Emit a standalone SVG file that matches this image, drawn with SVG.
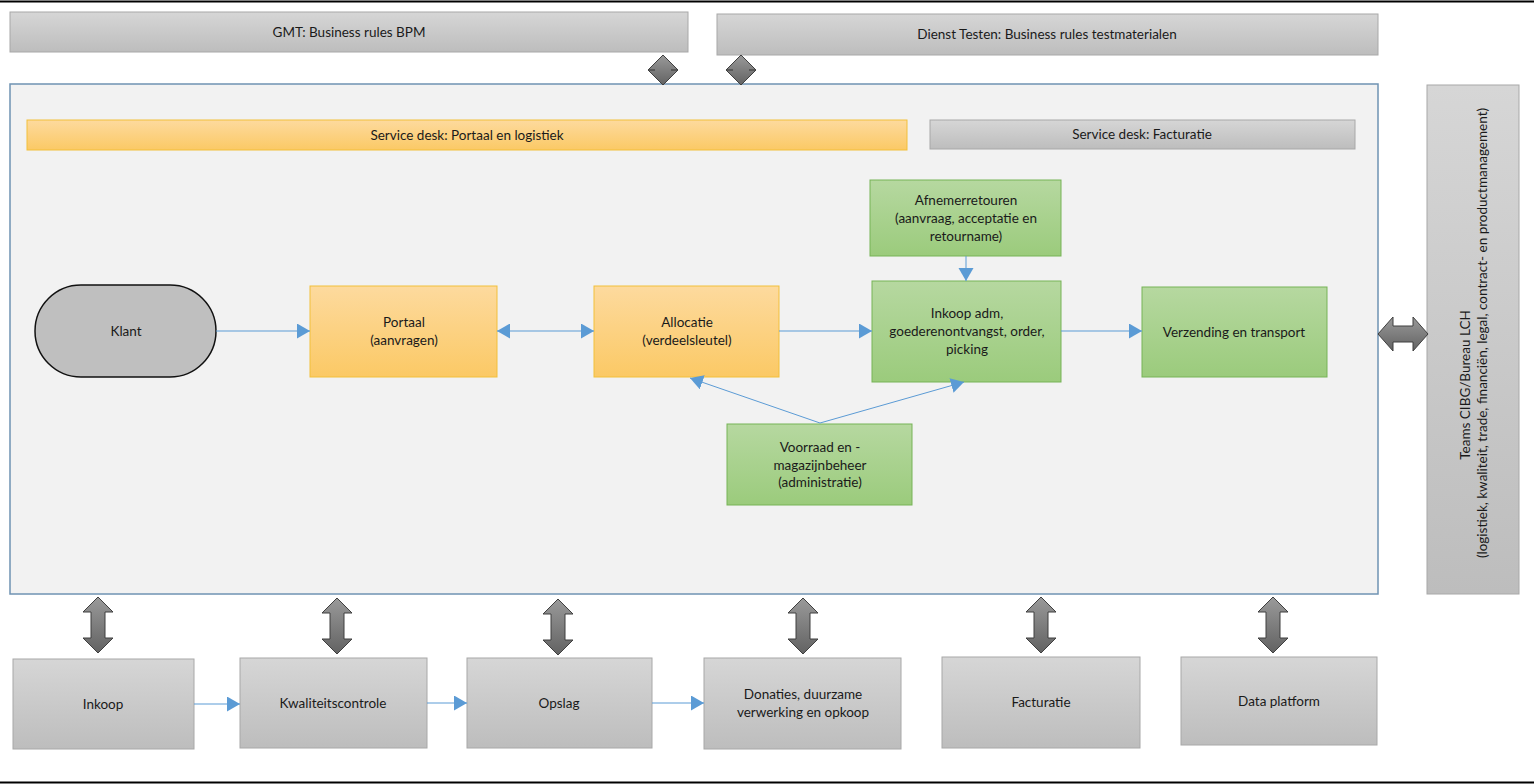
<svg xmlns="http://www.w3.org/2000/svg" width="1534" height="784" viewBox="0 0 1534 784">
<defs>
<linearGradient id="gGray" x1="0" y1="0" x2="0" y2="1"><stop offset="0" stop-color="#d6d6d6"/><stop offset="1" stop-color="#bdbdbd"/></linearGradient>
<linearGradient id="gOrange" x1="0" y1="0" x2="0" y2="1"><stop offset="0" stop-color="#fdda9e"/><stop offset="1" stop-color="#fbc965"/></linearGradient>
<linearGradient id="gGreen" x1="0" y1="0" x2="0" y2="1"><stop offset="0" stop-color="#b6d8a0"/><stop offset="1" stop-color="#9bcb7c"/></linearGradient>
<linearGradient id="gArrow" x1="0" y1="0" x2="0" y2="1"><stop offset="0" stop-color="#9a9a9a"/><stop offset="1" stop-color="#626262"/></linearGradient>
<marker id="tri" markerUnits="userSpaceOnUse" markerWidth="14" markerHeight="16" refX="13" refY="7.5" orient="auto">
<path d="M0,0 L13,7.5 L0,15 Z" fill="#5b9bd5"/>
</marker>
<marker id="triStart" markerUnits="userSpaceOnUse" markerWidth="14" markerHeight="16" refX="0" refY="7.5" orient="auto">
<path d="M13,0 L0,7.5 L13,15 Z" fill="#5b9bd5"/>
</marker>
<path id="vArrow" d="M0,-28 L15,-13 L7,-13 L7,13 L15,13 L0,28 L-15,13 L-7,13 L-7,-13 L-15,-13 Z"/>
</defs>
<style>
text{font-family:Lato,"Liberation Sans",sans-serif;font-size:13.5px;fill:#1a1a1a;text-anchor:middle}
.gray{fill:url(#gGray);stroke:#a8a8a8;stroke-width:1}
.orange{fill:url(#gOrange);stroke:#f2bf3a;stroke-width:1}
.green{fill:url(#gGreen);stroke:#76b356;stroke-width:1}
.conn{stroke:#5b9bd5;stroke-width:1;fill:none}
.big{fill:url(#gArrow);stroke:#3f3f3f;stroke-width:1}
</style>
<rect width="1534" height="784" fill="#ffffff"/>
<line x1="0" y1="1.5" x2="1534" y2="1.5" stroke="#000" stroke-width="2"/>
<line x1="0" y1="782.5" x2="1534" y2="782.5" stroke="#000" stroke-width="2"/>

<g id="gmt"><rect class="gray" x="10" y="12" width="678" height="40"/><text x="349" y="37">GMT: Business rules BPM</text></g>
<g id="dienst-testen"><rect class="gray" x="717" y="14" width="661" height="41"/><text x="1047" y="39">Dienst Testen: Business rules testmaterialen</text></g>

<g id="container"><rect x="10" y="84" width="1368" height="510" fill="#f2f2f2" stroke="#6f93b3" stroke-width="1.5"/></g>

<g id="sd-portaal"><rect class="orange" x="27" y="120" width="880" height="30"/><text x="467" y="140">Service desk: Portaal en logistiek</text></g>
<g id="sd-facturatie"><rect class="gray" x="930" y="120" width="425" height="29"/><text x="1142" y="139">Service desk: Facturatie</text></g>

<g id="teams"><rect class="gray" x="1427" y="85" width="92" height="509"/>
<text transform="translate(1470,385) rotate(-90)">Teams CIBG/Bureau LCH</text>
<text transform="translate(1487,333) rotate(-90)">(logistiek, kwaliteit, trade, financiën, legal, contract- en productmanagement)</text></g>

<g id="klant"><rect x="35" y="285" width="181" height="92" rx="46" ry="46" fill="#bfbfbf" stroke="#111" stroke-width="1.5"/><text x="126" y="336">Klant</text></g>
<g id="portaal"><rect class="orange" x="310" y="286" width="187" height="91"/><text x="404" y="327">Portaal</text><text x="404" y="345">(aanvragen)</text></g>
<g id="allocatie"><rect class="orange" x="594" y="286" width="185" height="91"/><text x="687" y="327">Allocatie</text><text x="687" y="345">(verdeelsleutel)</text></g>
<g id="afnemerretouren"><rect class="green" x="870" y="180" width="191" height="76"/><text x="966" y="205">Afnemerretouren</text><text x="966" y="223">(aanvraag, acceptatie en</text><text x="966" y="241">retourname)</text></g>
<g id="inkoop-adm"><rect class="green" x="872" y="281" width="189" height="101"/><text x="967" y="318">Inkoop adm,</text><text x="967" y="336">goederenontvangst, order,</text><text x="967" y="354">picking</text></g>
<g id="verzending"><rect class="green" x="1142" y="287" width="185" height="90"/><text x="1234" y="337">Verzending en transport</text></g>
<g id="voorraad"><rect class="green" x="727" y="424" width="185" height="81"/><text x="820" y="452">Voorraad en -</text><text x="820" y="470">magazijnbeheer</text><text x="820" y="487">(administratie)</text></g>

<g id="inkoop"><rect class="gray" x="13" y="659" width="181" height="90"/><text x="103" y="709">Inkoop</text></g>
<g id="kwaliteitscontrole"><rect class="gray" x="240" y="658" width="187" height="90"/><text x="333" y="708">Kwaliteitscontrole</text></g>
<g id="opslag"><rect class="gray" x="467" y="658" width="185" height="90"/><text x="559" y="708">Opslag</text></g>
<g id="donaties"><rect class="gray" x="704" y="658" width="197" height="91"/><text x="803" y="699">Donaties, duurzame</text><text x="803" y="717">verwerking en opkoop</text></g>
<g id="facturatie"><rect class="gray" x="942" y="657" width="198" height="91"/><text x="1041" y="707">Facturatie</text></g>
<g id="data-platform"><rect class="gray" x="1181" y="657" width="196" height="88"/><text x="1279" y="706">Data platform</text></g>

<g id="connectors">
<line class="conn" x1="216" y1="331" x2="310" y2="331" marker-end="url(#tri)"/>
<line class="conn" x1="497" y1="331" x2="594" y2="331" marker-start="url(#triStart)" marker-end="url(#tri)"/>
<line class="conn" x1="779" y1="331" x2="872" y2="331" marker-end="url(#tri)"/>
<line class="conn" x1="1061" y1="331" x2="1142" y2="331" marker-end="url(#tri)"/>
<line class="conn" x1="966" y1="256" x2="966" y2="281" marker-end="url(#tri)"/>
<line class="conn" x1="820" y1="423" x2="690" y2="378" marker-end="url(#tri)"/>
<line class="conn" x1="820" y1="423" x2="964" y2="382" marker-end="url(#tri)"/>
<line class="conn" x1="194" y1="704" x2="240" y2="704" marker-end="url(#tri)"/>
<line class="conn" x1="427" y1="703" x2="467" y2="703" marker-end="url(#tri)"/>
<line class="conn" x1="652" y1="703" x2="704" y2="703" marker-end="url(#tri)"/>

<path class="big" d="M663,55 L678,70 L663,85 L648,70 Z"/>
<path d="M649,70 h6 M671,70 h6" stroke="#333" stroke-width="1"/>
<path class="big" d="M741,55 L756,70 L741,85 L726,70 Z"/>
<path d="M727,70 h6 M749,70 h6" stroke="#333" stroke-width="1"/>

<use href="#vArrow" class="big" x="98" y="625"/>
<use href="#vArrow" class="big" x="337" y="626"/>
<use href="#vArrow" class="big" x="558" y="627"/>
<use href="#vArrow" class="big" x="803" y="626"/>
<use href="#vArrow" class="big" x="1041" y="625"/>
<use href="#vArrow" class="big" x="1273" y="625"/>
<path class="big" d="M1378,334 L1393,317 L1393,326 L1413,326 L1413,317 L1428,334 L1413,351 L1413,342 L1393,342 L1393,351 Z"/>
</g>
</svg>
